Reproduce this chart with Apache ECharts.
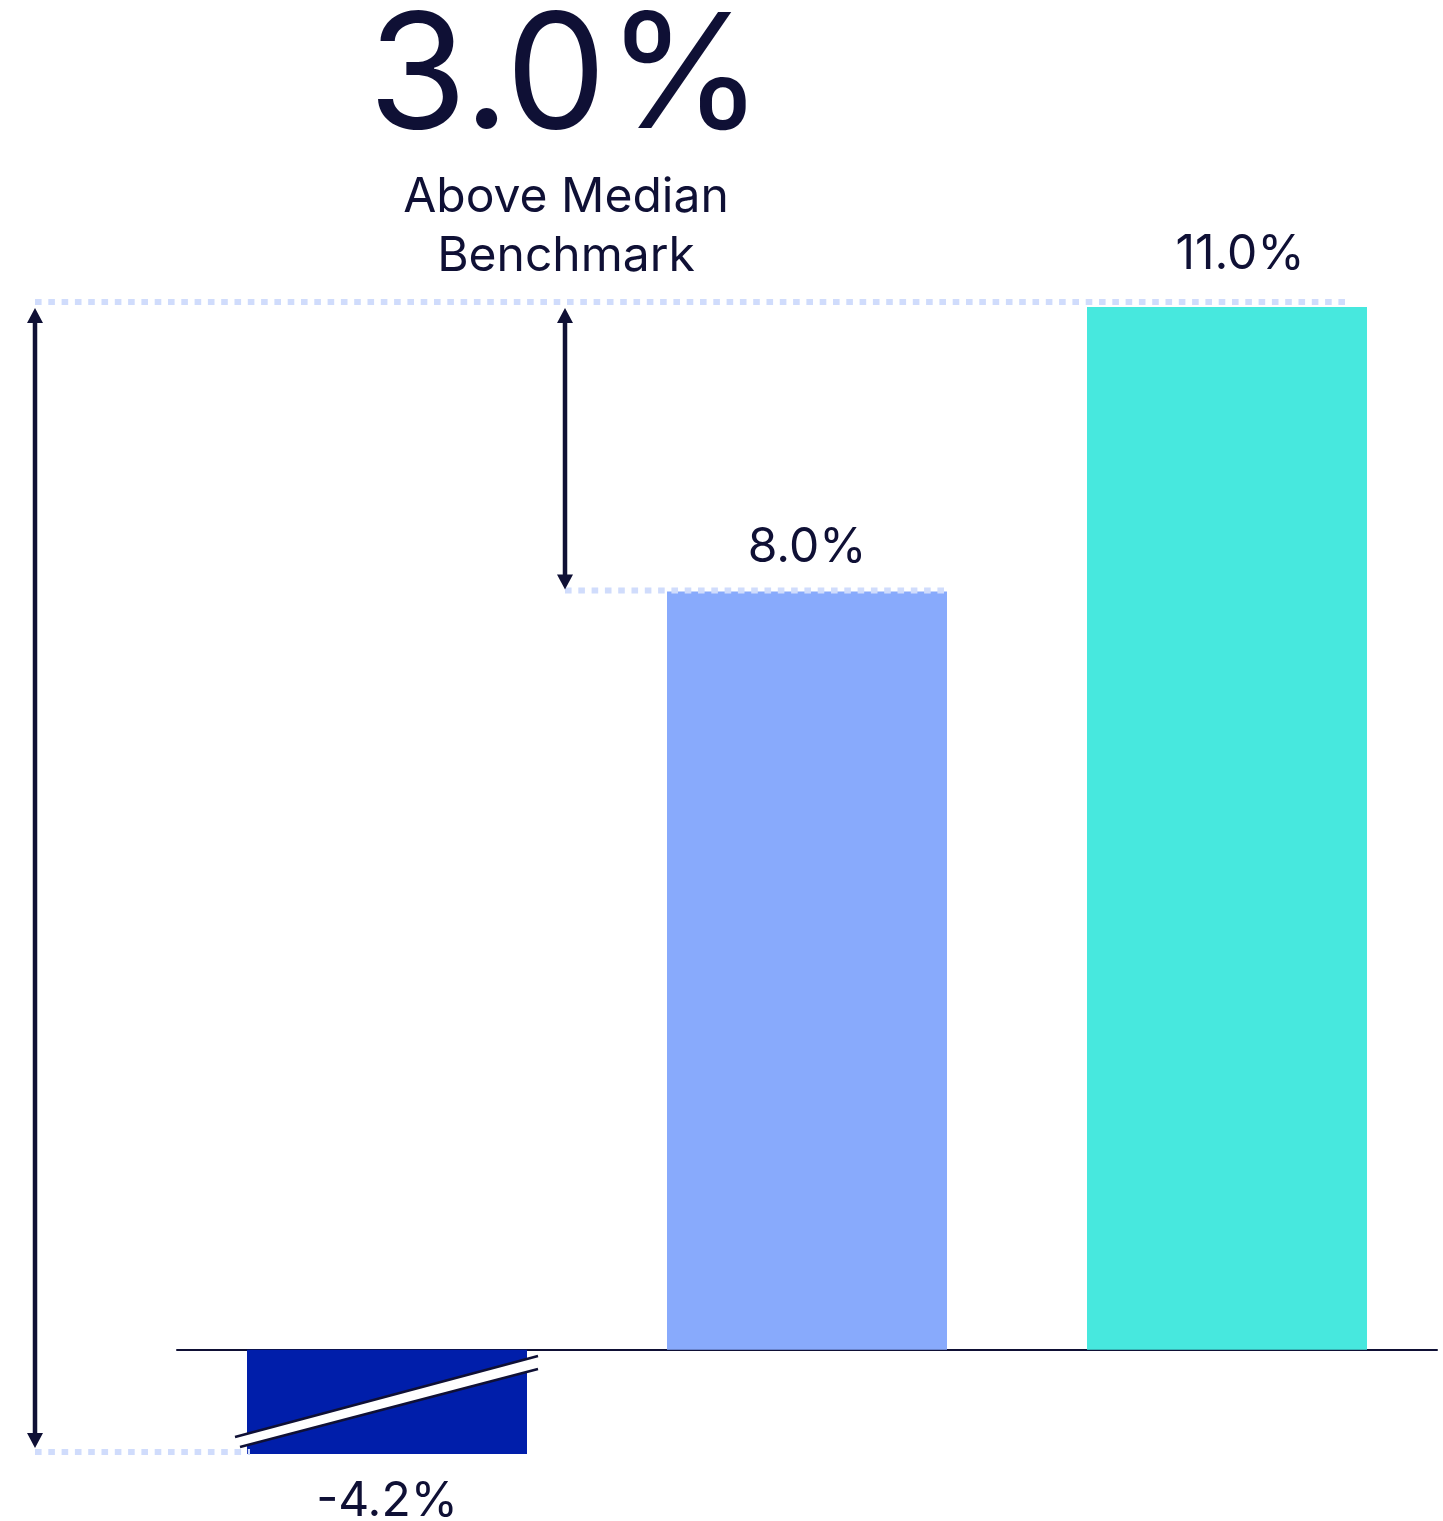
<!DOCTYPE html>
<html>
<head>
<meta charset="utf-8">
<title>Above Median Benchmark</title>
<script src="https://cdn.jsdelivr.net/npm/echarts@6/dist/echarts.min.js"></script>
<style>
  html, body { margin: 0; padding: 0; background: #ffffff; }
  #chart { width: 1443px; height: 1521px; }
</style>
</head>
<body>
<div id="chart"></div>
<script>
// ---- data ----
const categories = ['Lowest', 'Median Benchmark', 'Fund'];
const returns = [-4.2, 8.0, 11.0];
const valueLabels = ['-4.2%', '8.0%', '11.0%'];
const headline = '3.0%';
const headlineCaption = ['Above Median', 'Benchmark'];

// ---- styling ----
const INK = '#0f1035';
const DOT = '#d0dcfc';
const barColors = ['#001eaa', '#88aafc', '#47e8de'];
const labelPlacement = [
  { position: 'bottom', distance: 48, offset: [0, 0] },
  { position: 'top', distance: 44, offset: [0, 0] },
  { position: 'top', distance: 52, offset: [13, 0] }
];
const FONT = 'Inter, "Noto Sans", sans-serif';

const chart = echarts.init(document.getElementById('chart'), null, { renderer: 'canvas' });

const option = {
  animation: false,
  backgroundColor: '#ffffff',
  grid: { left: 177, right: 6, top: 307, bottom: 67 },
  xAxis: {
    type: 'category',
    data: categories,
    axisLine: { show: true, onZero: true, lineStyle: { color: INK, width: 2 } },
    axisTick: { show: false },
    axisLabel: { show: false },
    splitLine: { show: false }
  },
  yAxis: {
    type: 'value',
    min: -1.1,
    max: 11,
    show: false,
    splitLine: { show: false }
  },
  series: [{
    type: 'bar',
    barWidth: 280,
    clip: true,
    data: returns.map((v, i) => ({
      value: v,
      itemStyle: { color: barColors[i] },
      label: {
        show: true,
        position: labelPlacement[i].position,
        distance: labelPlacement[i].distance,
        offset: labelPlacement[i].offset,
        verticalAlign: 'middle',
        formatter: valueLabels[i],
        fontFamily: FONT,
        fontSize: 48,
        color: INK
      }
    }))
  }]
};

chart.setOption(option);

// ---- annotations: benchmark guides, span arrows, axis break ----
function px(idx, val) {
  return chart.convertToPixel({ xAxisIndex: 0, yAxisIndex: 0 }, [idx, val]);
}

const yTop = px(2, returns[2])[1];        // top of fund bar
const yMid = px(1, returns[1])[1];        // top of median bar
const gridBottom = px(0, -1.1)[1];        // clipped end of lowest bar
const bar0Cx = px(0, 0)[0];
const bar1Cx = px(1, 0)[0];
const bar2Cx = px(2, 0)[0];
const halfBar = 140;

const leftArrowX = 35;
const midArrowX = 565;

function dotted(x1, y, x2) {
  return {
    type: 'line', z: 100,
    shape: { x1: x1, y1: y, x2: x2, y2: y },
    style: { stroke: DOT, lineWidth: 6, lineDash: [6.6, 6.7] }
  };
}

function arrow(x, yA, yB) {
  const hw = 8, hh = 15;
  return [
    { type: 'line', z: 101,
      shape: { x1: x, y1: yA + hh - 2, x2: x, y2: yB - hh + 2 },
      style: { stroke: INK, lineWidth: 4.5 } },
    { type: 'polygon', z: 101,
      shape: { points: [[x, yA], [x - hw, yA + hh], [x + hw, yA + hh]] },
      style: { fill: INK } },
    { type: 'polygon', z: 101,
      shape: { points: [[x, yB], [x - hw, yB - hh], [x + hw, yB - hh]] },
      style: { fill: INK } }
  ];
}

// diagonal break across the clipped bar
const bx0 = bar0Cx - halfBar - 12;
const bx1 = bar0Cx + halfBar + 11;
const breakBand = [
  { type: 'polygon', z: 102,
    shape: { points: [[bx0, gridBottom - 17], [bx1, gridBottom - 98], [bx1, gridBottom - 85], [bx0 + 3, gridBottom - 6]] },
    style: { fill: '#ffffff' } },
  { type: 'line', z: 103,
    shape: { x1: bx0, y1: gridBottom - 17, x2: bx1, y2: gridBottom - 98 },
    style: { stroke: INK, lineWidth: 2.5 } },
  { type: 'line', z: 103,
    shape: { x1: bx0 + 5, y1: gridBottom - 7, x2: bx1, y2: gridBottom - 85 },
    style: { stroke: INK, lineWidth: 2.5 } }
];

const headlineTexts = [
  { type: 'text', z: 110,
    style: { x: 566, y: 80, text: headline, textAlign: 'center', textVerticalAlign: 'middle',
             fontFamily: FONT, fontSize: 160, fill: INK } },
  { type: 'text', z: 110,
    style: { x: 566, y: 198, text: headlineCaption[0], textAlign: 'center', textVerticalAlign: 'middle',
             fontFamily: FONT, fontSize: 48, fill: INK } },
  { type: 'text', z: 110,
    style: { x: 566, y: 257, text: headlineCaption[1], textAlign: 'center', textVerticalAlign: 'middle',
             fontFamily: FONT, fontSize: 48, fill: INK } }
];

chart.setOption({
  graphic: [
    dotted(leftArrowX, yTop - 5, bar2Cx + halfBar - 19),
    dotted(midArrowX, yMid - 1, bar1Cx + halfBar),
    dotted(leftArrowX, gridBottom - 2, bar0Cx - halfBar + 3),
    ...arrow(leftArrowX, yTop + 1, gridBottom - 6),
    ...arrow(midArrowX, yTop + 1, yMid - 2),
    ...breakBand,
    ...headlineTexts
  ]
});
</script>
</body>
</html>
